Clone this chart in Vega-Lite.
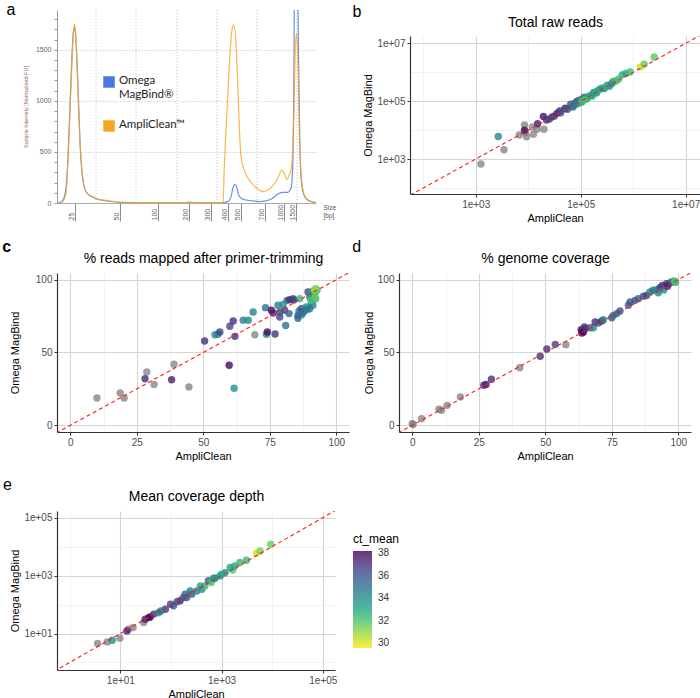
{
 "$schema": "https://vega.github.io/schema/vega-lite/v6.json",
 "padding": {"left": 2, "top": 1, "right": 0, "bottom": 0},
 "config": {
  "view": {"stroke": null},
  "font": "Liberation Sans",
  "title": {"fontSize": 16, "fontWeight": "normal", "anchor": "start", "frame": "bounds", "color": "#000"},
  "axis": {"labelFontSize": 10, "labelColor": "#4d4d4d", "titleFontSize": 11, "titleFontWeight": "normal", "titleColor": "#000", "domainColor": "#333", "domainWidth": 1.2, "tickColor": "#333", "tickSize": 3, "labelPadding": 2, "titlePadding": 3, "labelFlush": false, "labelOverlap": false, "gridColor": "#d9d9d9"}
 },
 "datasets": {
  "curves": [
   {"s":"Omega","p":0,"v":0},{"s":"Omega","p":4,"v":8},{"s":"Omega","p":7,"v":50},{"s":"Omega","p":9,"v":150},{"s":"Omega","p":11,"v":450},{"s":"Omega","p":13,"v":950},{"s":"Omega","p":15,"v":1450},{"s":"Omega","p":16.5,"v":1680},{"s":"Omega","p":17.5,"v":1712},{"s":"Omega","p":18.5,"v":1660},{"s":"Omega","p":20,"v":1400},{"s":"Omega","p":21.5,"v":1000},{"s":"Omega","p":23,"v":600},{"s":"Omega","p":25,"v":300},{"s":"Omega","p":27,"v":165},{"s":"Omega","p":29,"v":110},{"s":"Omega","p":34,"v":65},{"s":"Omega","p":39,"v":42},{"s":"Omega","p":49,"v":22},{"s":"Omega","p":59,"v":10},{"s":"Omega","p":69,"v":5},{"s":"Omega","p":89,"v":2},{"s":"Omega","p":129,"v":1},{"s":"Omega","p":164,"v":1},{"s":"Omega","p":170.7,"v":13},{"s":"Omega","p":174,"v":62},{"s":"Omega","p":176.3,"v":160},{"s":"Omega","p":178.3,"v":183},{"s":"Omega","p":180,"v":144},{"s":"Omega","p":181.7,"v":78},{"s":"Omega","p":184,"v":46},{"s":"Omega","p":189,"v":29},{"s":"Omega","p":195.7,"v":20},{"s":"Omega","p":202.3,"v":13},{"s":"Omega","p":209,"v":20},{"s":"Omega","p":215.7,"v":46},{"s":"Omega","p":220.7,"v":88},{"s":"Omega","p":225.7,"v":105},{"s":"Omega","p":230.7,"v":105},{"s":"Omega","p":234,"v":144},{"s":"Omega","p":235.7,"v":356},{"s":"Omega","p":236.7,"v":1010},{"s":"Omega","p":237.3,"v":1891},{"s":"Omega","p":238,"v":2500},{"s":"Omega","p":239,"v":2800},{"s":"Omega","p":240,"v":2600},{"s":"Omega","p":241,"v":1890},{"s":"Omega","p":241.7,"v":1336},{"s":"Omega","p":242.7,"v":683},{"s":"Omega","p":244,"v":258},{"s":"Omega","p":246.3,"v":95},{"s":"Omega","p":249.7,"v":36},{"s":"Omega","p":255.7,"v":10},{"s":"Omega","p":259,"v":3},
   {"s":"AmpliClean","p":0,"v":0},{"s":"AmpliClean","p":4,"v":5},{"s":"AmpliClean","p":7,"v":30},{"s":"AmpliClean","p":9,"v":100},{"s":"AmpliClean","p":11,"v":400},{"s":"AmpliClean","p":13,"v":900},{"s":"AmpliClean","p":15,"v":1400},{"s":"AmpliClean","p":16.5,"v":1680},{"s":"AmpliClean","p":17.5,"v":1755},{"s":"AmpliClean","p":18.5,"v":1690},{"s":"AmpliClean","p":20,"v":1350},{"s":"AmpliClean","p":21.5,"v":950},{"s":"AmpliClean","p":23,"v":600},{"s":"AmpliClean","p":25,"v":310},{"s":"AmpliClean","p":27,"v":170},{"s":"AmpliClean","p":29,"v":112},{"s":"AmpliClean","p":34,"v":70},{"s":"AmpliClean","p":39,"v":45},{"s":"AmpliClean","p":49,"v":25},{"s":"AmpliClean","p":59,"v":12},{"s":"AmpliClean","p":69,"v":6},{"s":"AmpliClean","p":89,"v":4},{"s":"AmpliClean","p":109,"v":3},{"s":"AmpliClean","p":129,"v":4},{"s":"AmpliClean","p":132,"v":14},{"s":"AmpliClean","p":135,"v":6},{"s":"AmpliClean","p":150,"v":3},{"s":"AmpliClean","p":165,"v":3},{"s":"AmpliClean","p":166,"v":7},{"s":"AmpliClean","p":167.3,"v":356},{"s":"AmpliClean","p":169.7,"v":846},{"s":"AmpliClean","p":172.3,"v":1336},{"s":"AmpliClean","p":175,"v":1695},{"s":"AmpliClean","p":176.7,"v":1745},{"s":"AmpliClean","p":179,"v":1565},{"s":"AmpliClean","p":180.7,"v":1173},{"s":"AmpliClean","p":182.3,"v":748},{"s":"AmpliClean","p":184,"v":454},{"s":"AmpliClean","p":187.3,"v":323},{"s":"AmpliClean","p":192.3,"v":225},{"s":"AmpliClean","p":197.3,"v":167},{"s":"AmpliClean","p":202.3,"v":127},{"s":"AmpliClean","p":206.3,"v":111},{"s":"AmpliClean","p":210.7,"v":127},{"s":"AmpliClean","p":215.7,"v":167},{"s":"AmpliClean","p":220.7,"v":242},{"s":"AmpliClean","p":224.7,"v":323},{"s":"AmpliClean","p":227.3,"v":291},{"s":"AmpliClean","p":229.7,"v":232},{"s":"AmpliClean","p":232.3,"v":274},{"s":"AmpliClean","p":234.3,"v":340},{"s":"AmpliClean","p":235.7,"v":519},{"s":"AmpliClean","p":237,"v":911},{"s":"AmpliClean","p":238.3,"v":1500},{"s":"AmpliClean","p":239.7,"v":1663},{"s":"AmpliClean","p":241,"v":1336},{"s":"AmpliClean","p":242.3,"v":683},{"s":"AmpliClean","p":244,"v":291},{"s":"AmpliClean","p":246.3,"v":111},{"s":"AmpliClean","p":249.7,"v":36},{"s":"AmpliClean","p":254,"v":13},{"s":"AmpliClean","p":259,"v":5}
  ],
  "b": [
   {"x":1259,"y":676,"ct":null},{"x":3467,"y":2089,"ct":null},{"x":6761,"y":6761,"ct":null},{"x":9333,"y":5888,"ct":null},{"x":8511,"y":15136,"ct":null},{"x":12023,"y":12882,"ct":null},{"x":14791,"y":10715,"ct":null},{"x":19953,"y":10715,"ct":null},{"x":12589,"y":7244,"ct":null},{"x":8913,"y":8318,"ct":null},
   {"x":2692,"y":6026,"ct":34.2},{"x":8511,"y":10000,"ct":38},{"x":19498,"y":29512,"ct":37.8},{"x":15136,"y":16596,"ct":37.5},{"x":22387,"y":22387,"ct":37.2},{"x":28184,"y":28184,"ct":37},{"x":35481,"y":38019,"ct":37.6},{"x":39811,"y":45709,"ct":37.3},{"x":51286,"y":57544,"ct":37.5},
   {"x":25119,"y":23988,"ct":36.5},{"x":31623,"y":30903,"ct":36.8},{"x":41687,"y":39811,"ct":36.2},{"x":50119,"y":54954,"ct":36},{"x":56234,"y":52481,"ct":35.8},{"x":64565,"y":79433,"ct":36},{"x":70795,"y":63096,"ct":35.5},{"x":79433,"y":89125,"ct":35.6},{"x":87096,"y":102329,"ct":36.2},{"x":100000,"y":112202,"ct":35.2},{"x":104713,"y":93325,"ct":35},{"x":114815,"y":134896,"ct":35.5},{"x":125893,"y":120226,"ct":34.8},
   {"x":75858,"y":72444,"ct":34.5},{"x":89125,"y":83176,"ct":34},{"x":131826,"y":141254,"ct":34.2},{"x":154882,"y":158489,"ct":33.8},{"x":177828,"y":199526,"ct":34.6},{"x":199526,"y":190546,"ct":34},{"x":223872,"y":251189,"ct":34.5},{"x":251189,"y":281838,"ct":33.5},{"x":281838,"y":275423,"ct":34.3},{"x":323594,"y":354813,"ct":34},{"x":354813,"y":331131,"ct":33.6},{"x":398107,"y":416869,"ct":34.4},
   {"x":104713,"y":100000,"ct":32.2},{"x":120226,"y":114815,"ct":32},{"x":134896,"y":125893,"ct":32.5},{"x":165959,"y":151356,"ct":33},{"x":199526,"y":213796,"ct":32.8},{"x":301995,"y":309030,"ct":32.6},{"x":416869,"y":478630,"ct":33},{"x":467735,"y":501187,"ct":32.5},{"x":524807,"y":575440,"ct":32.2},{"x":616595,"y":812831,"ct":32.8},{"x":724436,"y":912011,"ct":33},{"x":870964,"y":1023293,"ct":32.3},{"x":1380384,"y":1513561,"ct":30.2},{"x":1621810,"y":1905461,"ct":31.6},{"x":2511886,"y":3388442,"ct":31.8}
  ],
  "c": [
   {"x":10,"y":18.8,"ct":null},{"x":18.75,"y":22.2,"ct":null},{"x":20.25,"y":18.8,"ct":null},{"x":28.75,"y":36.6,"ct":null},{"x":31.5,"y":28.1,"ct":null},{"x":39,"y":41.9,"ct":null},{"x":44.6,"y":26.3,"ct":null},{"x":69.4,"y":62.2,"ct":null},
   {"x":28.1,"y":32,"ct":37.2},{"x":38.1,"y":31.3,"ct":37.5},{"x":50.5,"y":57.9,"ct":37},{"x":54.4,"y":62.2,"ct":34},{"x":55.5,"y":62.5,"ct":34.5},{"x":56.25,"y":64.1,"ct":36.5},{"x":61.9,"y":61.1,"ct":37},{"x":59.75,"y":41.2,"ct":38},{"x":61.6,"y":25.4,"ct":34},{"x":60,"y":68,"ct":36.5},{"x":61.25,"y":71.6,"ct":37},{"x":65,"y":72.1,"ct":34.5},{"x":66.9,"y":72.1,"ct":34.3},{"x":68.75,"y":77.8,"ct":34.5},{"x":73.4,"y":80.8,"ct":35},{"x":73.75,"y":62.5,"ct":34.5},{"x":74.1,"y":64.1,"ct":38},{"x":77,"y":62.7,"ct":37},{"x":75.6,"y":79,"ct":38},{"x":76.25,"y":77.1,"ct":37.5},{"x":78.75,"y":74.4,"ct":36.5},{"x":78.75,"y":77.8,"ct":36},{"x":81,"y":68.6,"ct":35},{"x":80.6,"y":79,"ct":36.5},{"x":81.5,"y":85.8,"ct":35.5},{"x":78.1,"y":82.4,"ct":34.5},{"x":80,"y":83,"ct":34},{"x":83.75,"y":87,"ct":36},{"x":82.5,"y":86.3,"ct":37},{"x":86.25,"y":87,"ct":32.5},{"x":82.25,"y":76.7,"ct":35.5},{"x":85.6,"y":75.5,"ct":35.5},{"x":86,"y":78.5,"ct":35},{"x":86.9,"y":80.1,"ct":36},{"x":89.4,"y":91.5,"ct":36.5},{"x":90,"y":88.1,"ct":34},{"x":90.6,"y":84.7,"ct":34.5},{"x":91.25,"y":82.4,"ct":34},{"x":91.9,"y":90.4,"ct":33.5},{"x":92.25,"y":87,"ct":33},{"x":92.75,"y":92.7,"ct":32.5},{"x":92.25,"y":93.8,"ct":31.5},{"x":91.25,"y":92.2,"ct":33},{"x":90.6,"y":89.7,"ct":33.5},{"x":88.75,"y":81.2,"ct":34.5},{"x":90,"y":80.1,"ct":35},{"x":87.75,"y":77.8,"ct":35.5},{"x":91.9,"y":92.7,"ct":30.8},{"x":92,"y":88,"ct":31.5},{"x":90.6,"y":85.8,"ct":32},{"x":85.6,"y":73.5,"ct":35.5},{"x":87,"y":76,"ct":35},{"x":89,"y":79.5,"ct":34.5},{"x":84,"y":86,"ct":36.5}
  ],
  "d": [
   {"x":0,"y":1.1,"ct":null},{"x":0.3,"y":0.5,"ct":null},{"x":3.5,"y":4.6,"ct":null},{"x":10,"y":11,"ct":null},{"x":11,"y":10.3,"ct":null},{"x":13.1,"y":13.7,"ct":null},{"x":18.1,"y":19.5,"ct":null},{"x":40.4,"y":39.6,"ct":null},{"x":57.75,"y":55.4,"ct":null},
   {"x":26.9,"y":27.5,"ct":37},{"x":27.75,"y":28.1,"ct":37.5},{"x":29.75,"y":31.6,"ct":37},{"x":48.1,"y":47.4,"ct":37},{"x":50.6,"y":52.4,"ct":37},{"x":53.75,"y":55.6,"ct":36.5},{"x":63.5,"y":65.7,"ct":38},{"x":64.4,"y":64.1,"ct":38},{"x":65,"y":66.4,"ct":37.5},{"x":64.75,"y":67.5,"ct":37},{"x":63.75,"y":63.4,"ct":38},{"x":66.9,"y":67,"ct":36},{"x":68.1,"y":67,"ct":34},{"x":68.75,"y":70.9,"ct":37},{"x":70,"y":70.3,"ct":36},{"x":71.25,"y":71.6,"ct":37},{"x":71.9,"y":72.5,"ct":34.5},{"x":75,"y":73.9,"ct":36},{"x":75.6,"y":75.5,"ct":35},{"x":76.9,"y":76.7,"ct":35.5},{"x":78.1,"y":78.5,"ct":36},{"x":81.25,"y":82.4,"ct":35.5},{"x":81.9,"y":84.7,"ct":36},{"x":83.75,"y":85.8,"ct":36},{"x":85,"y":87,"ct":35.5},{"x":86.9,"y":88.6,"ct":36},{"x":88.1,"y":89.2,"ct":36.5},{"x":89.4,"y":91.5,"ct":34.5},{"x":90.6,"y":92.7,"ct":35},{"x":91.9,"y":93.1,"ct":34},{"x":93.1,"y":94.5,"ct":36.5},{"x":94,"y":96.1,"ct":37},{"x":95.6,"y":97.3,"ct":37},{"x":96.9,"y":97.7,"ct":36},{"x":97.5,"y":98.4,"ct":35},{"x":98.4,"y":99.1,"ct":33},{"x":98.8,"y":98.6,"ct":31},{"x":99,"y":98.2,"ct":32.5},{"x":92.5,"y":91,"ct":34.3},{"x":94.5,"y":93,"ct":34.5},{"x":96,"y":95.5,"ct":37.5}
  ],
  "e": [
   {"x":3.55,"y":4.52,"ct":null},{"x":5.5,"y":5.13,"ct":null},{"x":9.77,"y":6.92,"ct":null},{"x":14.45,"y":14.13,"ct":null},{"x":17.78,"y":16.22,"ct":null},{"x":28.84,"y":23.99,"ct":null},
   {"x":6.92,"y":5.89,"ct":34},{"x":13.49,"y":12.3,"ct":37.5},{"x":30.9,"y":30.9,"ct":37.5},{"x":36.31,"y":35.48,"ct":37.8},{"x":38.9,"y":37.15,"ct":38},{"x":45.71,"y":46.77,"ct":37.2},{"x":56.23,"y":52.48,"ct":34.3},{"x":77.62,"y":69.18,"ct":36.8},{"x":97.72,"y":102.3,"ct":36.5},{"x":112.2,"y":91.2,"ct":36},{"x":151.4,"y":134.9,"ct":37.5},{"x":173.8,"y":173.8,"ct":35.5},{"x":204.2,"y":173.8,"ct":36},{"x":257,"y":229.1,"ct":35.8},{"x":323.6,"y":295.1,"ct":34.5},{"x":407.4,"y":338.8,"ct":34},{"x":467.7,"y":436.5,"ct":32.5},{"x":549.5,"y":660.7,"ct":35.8},{"x":631,"y":575.4,"ct":32},{"x":741.3,"y":812.8,"ct":34.8},{"x":933.3,"y":977.2,"ct":34},{"x":1175,"y":1259,"ct":33.8},{"x":1660,"y":1549,"ct":32},{"x":1820,"y":2138,"ct":33},{"x":2291,"y":2818,"ct":32.5},{"x":3090,"y":3388,"ct":32.5},{"x":4898,"y":5888,"ct":30.2},{"x":5754,"y":7079,"ct":31.4},{"x":9333,"y":12023,"ct":31.6},{"x":380.2,"y":436.5,"ct":33.2},{"x":691.8,"y":812.8,"ct":33.5},{"x":1000,"y":1122,"ct":33},{"x":1479,"y":1905,"ct":33.2},{"x":131.8,"y":125.9,"ct":36.3},{"x":63.1,"y":60.3,"ct":35},{"x":190.5,"y":229.1,"ct":35.6},{"x":239.9,"y":295.1,"ct":34.6}
  ]
 },
 "spacing": 16,
 "resolve": {"scale": {"color": "independent", "stroke": "independent"}, "legend": {"color": "independent", "stroke": "independent"}},
 "vconcat": [
  {
   "spacing": 16,
   "resolve": {"scale": {"color": "independent", "stroke": "independent"}, "legend": {"color": "independent", "stroke": "independent"}},
   "hconcat": [
    {
     "title": {"text": "a", "dx": -17, "offset": -8},
     "width": 259, "height": 193,
     "layer": [
      {"data": {"values": [{"p": 39}, {"p": 79}, {"p": 120}, {"p": 160}, {"p": 200}, {"p": 240}]},
       "mark": {"type": "rule", "strokeDash": [1, 2], "color": "#bdbdbd", "strokeWidth": 1},
       "encoding": {"x": {"field": "p", "type": "quantitative", "scale": {"domain": [0, 259], "nice": false, "zero": false},
         "axis": {"values": [18, 63, 101, 132, 154, 171, 184, 208, 227, 239],
          "labelExpr": "['25','50','100','200','300','400','500','700','1000','1500'][indexof([18,63,101,132,154,171,184,208,227,239], datum.value)]",
          "labelAngle": -90, "labelAlign": "left", "labelBaseline": "bottom", "labelPadding": -1, "labelOffset": -1, "labelOverlap": false,
          "tickSize": 18, "tickColor": "#8c8c8c", "tickWidth": 1, "domainColor": "#aaaaaa", "domainWidth": 1,
          "labelFontSize": 7, "labelColor": "#666", "grid": false,
          "title": ["Size", "[bp]"], "titleFontSize": 6.5, "titleColor": "#555", "titleX": 266, "titleY": 1,
          "titleAlign": "left", "titleBaseline": "top", "titleAngle": 0, "titleLineHeight": 8}}}},
      {"data": {"name": "curves"},
       "mark": {"type": "line", "interpolate": "monotone", "strokeWidth": 1.2, "opacity": 0.8, "clip": true},
       "encoding": {
        "x": {"field": "p", "type": "quantitative", "scale": {"domain": [0, 259], "nice": false, "zero": false},
         "axis": {"values": [18, 63, 101, 132, 154, 171, 184, 208, 227, 239],
          "labelExpr": "['25','50','100','200','300','400','500','700','1000','1500'][indexof([18,63,101,132,154,171,184,208,227,239], datum.value)]",
          "labelAngle": -90, "labelAlign": "left", "labelBaseline": "bottom", "labelPadding": -1, "labelOffset": -1, "labelOverlap": false,
          "tickSize": 18, "tickColor": "#8c8c8c", "tickWidth": 1, "domainColor": "#aaaaaa", "domainWidth": 1,
          "labelFontSize": 7, "labelColor": "#666", "grid": false,
          "title": ["Size", "[bp]"], "titleFontSize": 6.5, "titleColor": "#555", "titleX": 266, "titleY": 1,
          "titleAlign": "left", "titleBaseline": "top", "titleAngle": 0, "titleLineHeight": 8}},
        "y": {"field": "v", "type": "quantitative", "scale": {"domain": [0, 1890], "nice": false},
         "axis": {"values": [0, 100, 200, 300, 400, 500, 600, 700, 800, 900, 1000, 1100, 1200, 1300, 1400, 1500, 1600, 1700, 1800],
          "format": "d", "labelExpr": "datum.value % 500 == 0 ? datum.label : ''", "labelOverlap": false,
          "grid": true, "gridDash": [1, 2], "gridColor": "#bdbdbd",
          "gridOpacity": {"condition": {"test": "datum.value % 500 == 0 && datum.value > 0", "value": 1}, "value": 0},
          "tickSize": 3, "tickColor": "#999", "domainColor": "#999", "domainWidth": 1,
          "labelFontSize": 7, "labelColor": "#666", "labelPadding": 3,
          "title": "Sample Intensity [Normalized FU]", "titleFontSize": 5.5, "titleColor": "#8b6b5a", "titlePadding": 7}},
        "stroke": {"field": "s", "type": "nominal", "scale": {"domain": ["Omega", "AmpliClean"], "range": ["#4a78e0", "#f8a41e"]},
         "legend": {"orient": "none", "legendX": 46, "legendY": 66, "title": null, "symbolType": "square", "symbolSize": 30, "symbolStrokeWidth": 6, "symbolOpacity": 1,
          "labelFont": "Lato", "labelFontSize": 11.5, "labelColor": "#222", "labelLimit": 0, "rowPadding": 11, "labelOffset": 4, "labelBaseline": "top",
          "labelExpr": "datum.label == 'Omega' ? ['Omega', 'MagBind®'] : 'AmpliClean™'",
          "encode": {"labels": {"update": {"dy": {"value": -7}}}}}}
       }}
     ]
    },
    {
     "spacing": -5,
     "vconcat": [
      {
       "title": {"text": "b", "dx": -57, "offset": -10},
       "width": 290, "height": 1,
       "data": {"values": [{}]},
       "mark": {"type": "rule", "opacity": 0},
       "encoding": {}
      },
      {
       "width": 290, "height": 158,
       "resolve": {"axis": {"x": "independent"}},
       "layer": [
        {"data": {"name": "b"}, "transform": [{"filter": "datum.ct == null"}],
         "mark": {"type": "point", "filled": true, "size": 55, "opacity": 0.75, "color": "#7f7f7f"},
         "encoding": {
          "x": {"field": "x", "type": "quantitative", "scale": {"type": "log", "domain": [56.1, 18750000], "nice": false},
           "axis": {"values": [100, 1000, 10000, 100000, 1000000, 10000000], "title": "AmpliClean", "labelOverlap": false,
            "labelExpr": "datum.value == 1000 ? '1e+03' : datum.value == 100000 ? '1e+05' : datum.value == 10000000 ? '1e+07' : ''",
            "gridColor": {"condition": {"test": "datum.value == 1000 || datum.value == 100000 || datum.value == 10000000", "value": "#d4d4d4"}, "value": "#ececec"},
            "gridWidth": {"condition": {"test": "datum.value == 1000 || datum.value == 100000 || datum.value == 10000000", "value": 1.1}, "value": 0.7},
            "tickOpacity": {"condition": {"test": "datum.value == 1000 || datum.value == 100000 || datum.value == 10000000", "value": 1}, "value": 0}}},
          "y": {"field": "y", "type": "quantitative", "scale": {"type": "log", "domain": [62.1, 17900000], "nice": false},
           "axis": {"values": [100, 1000, 10000, 100000, 1000000, 10000000], "title": "Omega MagBind", "labelOverlap": false,
            "labelExpr": "datum.value == 1000 ? '1e+03' : datum.value == 100000 ? '1e+05' : datum.value == 10000000 ? '1e+07' : ''",
            "gridColor": {"condition": {"test": "datum.value == 1000 || datum.value == 100000 || datum.value == 10000000", "value": "#d4d4d4"}, "value": "#ececec"},
            "gridWidth": {"condition": {"test": "datum.value == 1000 || datum.value == 100000 || datum.value == 10000000", "value": 1.1}, "value": 0.7},
            "tickOpacity": {"condition": {"test": "datum.value == 1000 || datum.value == 100000 || datum.value == 10000000", "value": 1}, "value": 0}}}
         }},
        {"data": {"name": "b"}, "transform": [{"filter": "datum.ct != null"}],
         "mark": {"type": "point", "filled": true, "size": 55, "opacity": 0.8},
         "encoding": {
          "x": {"field": "x", "type": "quantitative", "scale": {"type": "log", "domain": [56.1, 18750000], "nice": false}, "axis": null},
          "y": {"field": "y", "type": "quantitative", "scale": {"type": "log", "domain": [62.1, 17900000], "nice": false}},
          "color": {"field": "ct", "type": "quantitative", "scale": {"scheme": "viridis", "reverse": true, "domain": [29.6, 38.2]}, "legend": null}
         }},
        {"data": {"values": [{"a0": 1, "a1": 1000000000}]},
         "mark": {"type": "rule", "color": "#ff1a1a", "strokeDash": [4, 3], "strokeWidth": 1.1, "clip": true},
         "encoding": {
          "x": {"field": "a0", "type": "quantitative", "scale": {"type": "log", "domain": [56.1, 18750000], "nice": false},
           "axis": {"orient": "top", "title": "Total raw reads", "labels": false, "ticks": false, "domain": false, "grid": false, "titleFontSize": 14, "titlePadding": 7}},
          "x2": {"field": "a1"},
          "y": {"field": "a0", "type": "quantitative", "scale": {"type": "log", "domain": [62.1, 17900000], "nice": false}},
          "y2": {"field": "a1"}
         }}
       ]
      }
     ]
    }
   ]
  },
  {
   "spacing": 3,
   "resolve": {"scale": {"color": "independent"}, "legend": {"color": "independent"}},
   "hconcat": [
    {
     "title": {"text": "c", "dx": -7, "offset": -4, "fontWeight": "bold"},
     "width": 292, "height": 159,
     "resolve": {"axis": {"x": "independent"}},
     "layer": [
      {"data": {"name": "c"}, "transform": [{"filter": "datum.ct == null"}],
       "mark": {"type": "point", "filled": true, "size": 55, "opacity": 0.75, "color": "#7f7f7f"},
       "encoding": {
        "x": {"field": "x", "type": "quantitative", "scale": {"domain": [-5, 104.8], "nice": false, "zero": false},
         "axis": {"values": [0, 12.5, 25, 37.5, 50, 62.5, 75, 87.5, 100], "title": "AmpliClean", "labelOverlap": false,
          "labelExpr": "datum.value % 25 == 0 ? datum.label : ''",
          "gridColor": {"condition": {"test": "datum.value % 25 == 0", "value": "#d4d4d4"}, "value": "#ececec"},
          "gridWidth": {"condition": {"test": "datum.value % 25 == 0", "value": 1.1}, "value": 0.7},
          "tickOpacity": {"condition": {"test": "datum.value % 25 == 0", "value": 1}, "value": 0}}},
        "y": {"field": "y", "type": "quantitative", "scale": {"domain": [-4.6, 104.6], "nice": false, "zero": false},
         "axis": {"values": [0, 12.5, 25, 37.5, 50, 62.5, 75, 87.5, 100], "title": "Omega MagBind", "titlePadding": 15, "labelOverlap": false,
          "labelExpr": "datum.value % 25 == 0 ? datum.label : ''",
          "gridColor": {"condition": {"test": "datum.value % 25 == 0", "value": "#d4d4d4"}, "value": "#ececec"},
          "gridWidth": {"condition": {"test": "datum.value % 25 == 0", "value": 1.1}, "value": 0.7},
          "tickOpacity": {"condition": {"test": "datum.value % 25 == 0", "value": 1}, "value": 0}}}
       }},
      {"data": {"name": "c"}, "transform": [{"filter": "datum.ct != null"}],
       "mark": {"type": "point", "filled": true, "size": 55, "opacity": 0.8},
       "encoding": {
        "x": {"field": "x", "type": "quantitative", "scale": {"domain": [-5, 104.8], "nice": false, "zero": false}, "axis": null},
        "y": {"field": "y", "type": "quantitative", "scale": {"domain": [-4.6, 104.6], "nice": false, "zero": false}},
        "color": {"field": "ct", "type": "quantitative", "scale": {"scheme": "viridis", "reverse": true, "domain": [29.6, 38.2]}, "legend": null}
       }},
      {"data": {"values": [{"a0": -10, "a1": 110}]},
       "mark": {"type": "rule", "color": "#ff1a1a", "strokeDash": [4, 3], "strokeWidth": 1.1, "clip": true},
       "encoding": {
        "x": {"field": "a0", "type": "quantitative", "scale": {"domain": [-5, 104.8], "nice": false, "zero": false},
         "axis": {"orient": "top", "title": "% reads mapped after primer-trimming", "labels": false, "ticks": false, "domain": false, "grid": false, "titleFontSize": 14, "titlePadding": 8}},
        "x2": {"field": "a1"},
        "y": {"field": "a0", "type": "quantitative", "scale": {"domain": [-4.6, 104.6], "nice": false, "zero": false}},
        "y2": {"field": "a1"}
       }}
     ]
    },
    {
     "title": {"text": "d", "dx": -11, "offset": -4},
     "width": 292, "height": 159,
     "resolve": {"axis": {"x": "independent"}},
     "layer": [
      {"data": {"name": "d"}, "transform": [{"filter": "datum.ct == null"}],
       "mark": {"type": "point", "filled": true, "size": 55, "opacity": 0.75, "color": "#7f7f7f"},
       "encoding": {
        "x": {"field": "x", "type": "quantitative", "scale": {"domain": [-5, 104.8], "nice": false, "zero": false},
         "axis": {"values": [0, 12.5, 25, 37.5, 50, 62.5, 75, 87.5, 100], "title": "AmpliClean", "labelOverlap": false,
          "labelExpr": "datum.value % 25 == 0 ? datum.label : ''",
          "gridColor": {"condition": {"test": "datum.value % 25 == 0", "value": "#d4d4d4"}, "value": "#ececec"},
          "gridWidth": {"condition": {"test": "datum.value % 25 == 0", "value": 1.1}, "value": 0.7},
          "tickOpacity": {"condition": {"test": "datum.value % 25 == 0", "value": 1}, "value": 0}}},
        "y": {"field": "y", "type": "quantitative", "scale": {"domain": [-4.6, 104.6], "nice": false, "zero": false},
         "axis": {"values": [0, 12.5, 25, 37.5, 50, 62.5, 75, 87.5, 100], "title": "Omega MagBind", "labelOverlap": false,
          "labelExpr": "datum.value % 25 == 0 ? datum.label : ''",
          "gridColor": {"condition": {"test": "datum.value % 25 == 0", "value": "#d4d4d4"}, "value": "#ececec"},
          "gridWidth": {"condition": {"test": "datum.value % 25 == 0", "value": 1.1}, "value": 0.7},
          "tickOpacity": {"condition": {"test": "datum.value % 25 == 0", "value": 1}, "value": 0}}}
       }},
      {"data": {"name": "d"}, "transform": [{"filter": "datum.ct != null"}],
       "mark": {"type": "point", "filled": true, "size": 55, "opacity": 0.8},
       "encoding": {
        "x": {"field": "x", "type": "quantitative", "scale": {"domain": [-5, 104.8], "nice": false, "zero": false}, "axis": null},
        "y": {"field": "y", "type": "quantitative", "scale": {"domain": [-4.6, 104.6], "nice": false, "zero": false}},
        "color": {"field": "ct", "type": "quantitative", "scale": {"scheme": "viridis", "reverse": true, "domain": [29.6, 38.2]}, "legend": null}
       }},
      {"data": {"values": [{"a0": -10, "a1": 110}]},
       "mark": {"type": "rule", "color": "#ff1a1a", "strokeDash": [4, 3], "strokeWidth": 1.1, "clip": true},
       "encoding": {
        "x": {"field": "a0", "type": "quantitative", "scale": {"domain": [-5, 104.8], "nice": false, "zero": false},
         "axis": {"orient": "top", "title": "% genome coverage", "labels": false, "ticks": false, "domain": false, "grid": false, "titleFontSize": 14, "titlePadding": 8}},
        "x2": {"field": "a1"},
        "y": {"field": "a0", "type": "quantitative", "scale": {"domain": [-4.6, 104.6], "nice": false, "zero": false}},
        "y2": {"field": "a1"}
       }}
     ]
    }
   ]
  },
  {
   "title": {"text": "e", "dx": -7, "offset": -4},
   "width": 278, "height": 159,
   "resolve": {"axis": {"x": "independent"}},
   "layer": [
    {"data": {"name": "e"}, "transform": [{"filter": "datum.ct == null"}],
     "mark": {"type": "point", "filled": true, "size": 55, "opacity": 0.75, "color": "#7f7f7f"},
     "encoding": {
      "x": {"field": "x", "type": "quantitative", "scale": {"type": "log", "domain": [0.56, 174000], "nice": false},
       "axis": {"values": [1, 10, 100, 1000, 10000, 100000], "title": "AmpliClean", "labelOverlap": false,
        "labelExpr": "datum.value == 10 ? '1e+01' : datum.value == 1000 ? '1e+03' : datum.value == 100000 ? '1e+05' : ''",
        "gridColor": {"condition": {"test": "datum.value == 10 || datum.value == 1000 || datum.value == 100000", "value": "#d4d4d4"}, "value": "#ececec"},
        "gridWidth": {"condition": {"test": "datum.value == 10 || datum.value == 1000 || datum.value == 100000", "value": 1.1}, "value": 0.7},
        "tickOpacity": {"condition": {"test": "datum.value == 10 || datum.value == 1000 || datum.value == 100000", "value": 1}, "value": 0}}},
      "y": {"field": "y", "type": "quantitative", "scale": {"type": "log", "domain": [0.55, 170000], "nice": false},
       "axis": {"values": [1, 10, 100, 1000, 10000, 100000], "title": "Omega MagBind", "labelOverlap": false,
        "labelExpr": "datum.value == 10 ? '1e+01' : datum.value == 1000 ? '1e+03' : datum.value == 100000 ? '1e+05' : ''",
        "gridColor": {"condition": {"test": "datum.value == 10 || datum.value == 1000 || datum.value == 100000", "value": "#d4d4d4"}, "value": "#ececec"},
        "gridWidth": {"condition": {"test": "datum.value == 10 || datum.value == 1000 || datum.value == 100000", "value": 1.1}, "value": 0.7},
        "tickOpacity": {"condition": {"test": "datum.value == 10 || datum.value == 1000 || datum.value == 100000", "value": 1}, "value": 0}}}
     }},
    {"data": {"name": "e"}, "transform": [{"filter": "datum.ct != null"}],
     "mark": {"type": "point", "filled": true, "size": 55, "opacity": 0.8},
     "encoding": {
      "x": {"field": "x", "type": "quantitative", "scale": {"type": "log", "domain": [0.56, 174000], "nice": false}, "axis": null},
      "y": {"field": "y", "type": "quantitative", "scale": {"type": "log", "domain": [0.55, 170000], "nice": false}},
      "color": {"field": "ct", "type": "quantitative", "scale": {"scheme": "viridis", "reverse": true, "domain": [29.6, 38.2]},
       "legend": {"orient": "none", "legendX": 296, "legendY": 23, "direction": "vertical", "title": "ct_mean", "titleFontSize": 12, "titleFontWeight": "normal", "titleColor": "#000", "titlePadding": 5,
        "gradientLength": 97, "gradientThickness": 19, "gradientStrokeWidth": 0, "labelFontSize": 10, "labelColor": "#333", "labelOffset": 6, "values": [30, 32, 34, 36, 38]}}
     }},
    {"data": {"values": [{"a0": 0.01, "a1": 10000000}]},
     "mark": {"type": "rule", "color": "#ff1a1a", "strokeDash": [4, 3], "strokeWidth": 1.1, "clip": true},
     "encoding": {
      "x": {"field": "a0", "type": "quantitative", "scale": {"type": "log", "domain": [0.56, 174000], "nice": false},
       "axis": {"orient": "top", "title": "Mean coverage depth", "labels": false, "ticks": false, "domain": false, "grid": false, "titleFontSize": 14, "titlePadding": 8}},
      "x2": {"field": "a1"},
      "y": {"field": "a0", "type": "quantitative", "scale": {"type": "log", "domain": [0.55, 170000], "nice": false}},
      "y2": {"field": "a1"}
     }}
   ]
  }
 ]
}
